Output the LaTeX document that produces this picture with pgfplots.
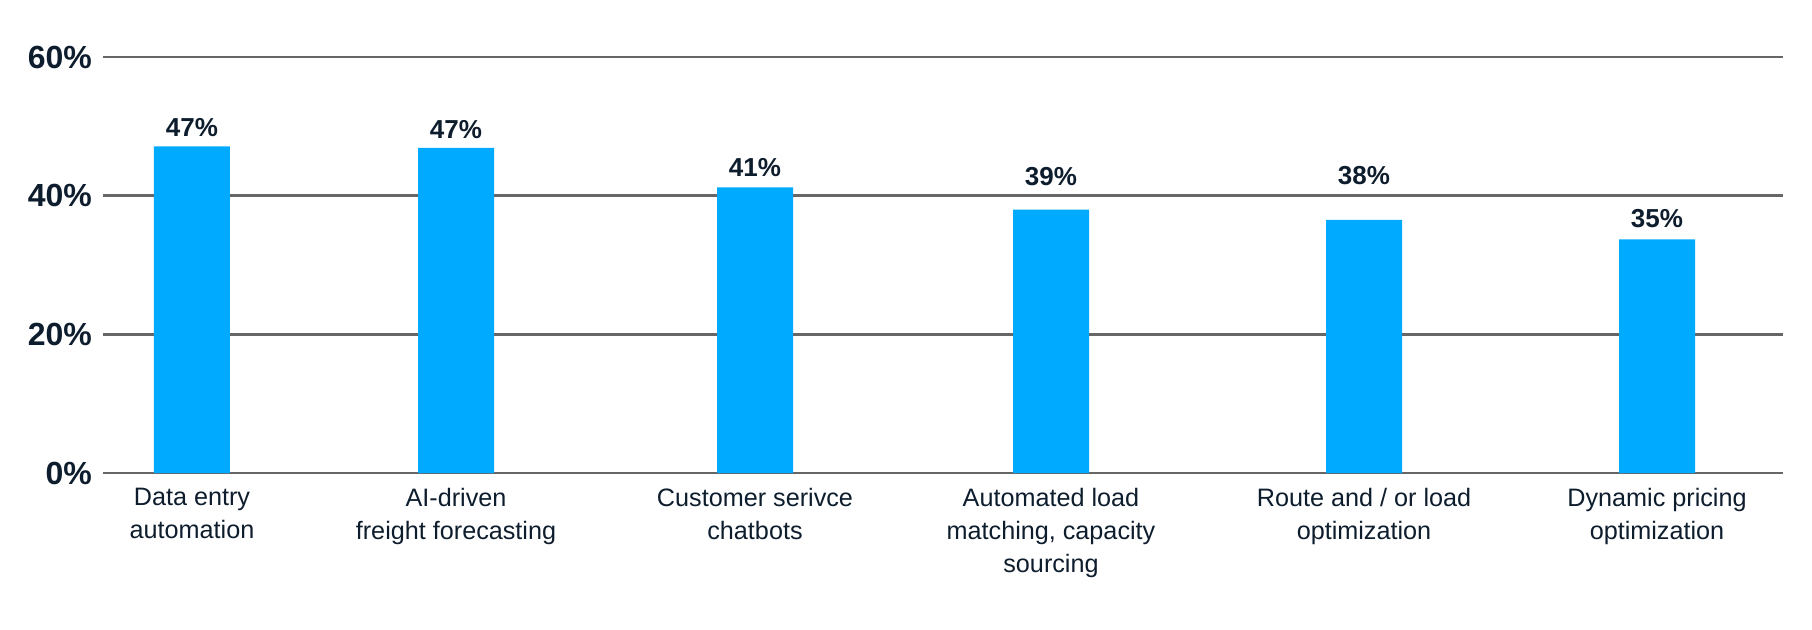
\documentclass[border=0pt]{standalone}
\usepackage{fontspec}
\setmainfont{Liberation Sans}
\usepackage{pgfplots}
\pgfplotsset{compat=1.18}

\definecolor{barblue}{HTML}{00AAFF}
\definecolor{gridgray}{HTML}{666666}
\definecolor{ink}{HTML}{0E1D2D}

\begin{document}
\begin{tikzpicture}
% page = 1812 x 629 px at 0.5pt per px
\useasboundingbox (-51.5pt,-78pt) rectangle (854.5pt,236.5pt);
\begin{axis}[
  scale only axis,
  width=840pt, height=208pt,
  xmin=103, xmax=1783,
  ymin=0, ymax=60,
  clip=false,
  axis line style={draw=none},
  major tick length=0pt,
  ymajorgrids,
  grid style={line width=1.35pt, gridgray},
  ytick={0,20,40,60},
  yticklabel={\pgfmathprintnumber{\tick}\%},
  /pgf/number format/assume math mode=true,
  yticklabel style={font=\bfseries\fontsize{16}{19}\selectfont, text=ink, xshift=-2pt},
  xtick={192,456,755,1051,1364,1657},
  xticklabels={
    {Data entry\\automation},
    {AI-driven\\freight forecasting},
    {Customer serivce\\chatbots},
    {Automated load\\matching, capacity\\sourcing},
    {Route and / or load\\optimization},
    {Dynamic pricing\\optimization}},
  xticklabel style={align=center, font=\fontsize{12.6}{16.5}\selectfont, text=ink, yshift=-4pt},
  ]

% bar heights as drawn
\addplot[ybar, bar width=76, fill=barblue, draw=none] table {
x    y
192  47.1
456  46.9
755  41.2
1051 38.0
1364 36.5
1657 33.7
};

% value labels (y = label centre, lab = printed value)
\addplot[draw=none, mark=none,
  point meta=\thisrow{lab},
  nodes near coords={\pgfmathprintnumber{\pgfplotspointmeta}\%},
  nodes near coords style={anchor=center, inner sep=0pt,
    font=\bfseries\fontsize{13}{15}\selectfont, text=ink}]
  table {
x    y    lab
192  49.8 47
456  49.6 47
755  44.0 41
1051 42.7 39
1364 42.9 38
1657 36.7 35
};

\end{axis}
\end{tikzpicture}
\end{document}
